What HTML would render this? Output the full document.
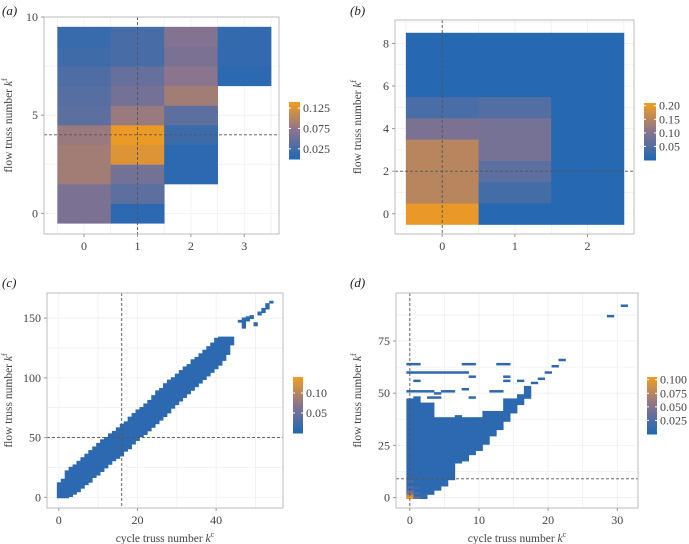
<!DOCTYPE html>
<html><head><meta charset="utf-8"><style>
html,body{margin:0;padding:0;background:#fff;}
svg{display:block;font-family:"Liberation Serif",serif;}
</style></head><body>
<svg id="fig" width="689" height="544" viewBox="0 0 689 544" xmlns="http://www.w3.org/2000/svg"></svg>
<script>
// ---- Panel (a) data ----
const aCols = [0,0,0,0,0,0,0,0,0,0, 1,1,1,1,1,1,1,1,1,1, 2,2,2,2,2,2,2,2, 3,3,3];
const aRows = [0,1,2,3,4,5,6,7,8,9, 0,1,2,3,4,5,6,7,8,9, 2,3,4,5,6,7,8,9, 7,8,9];
const aVals = [0.06,0.06,0.085,0.085,0.08,0.04,0.035,0.03,0.02,0.015,
               0.008,0.04,0.055,0.125,0.135,0.08,0.055,0.045,0.025,0.025,
               0.008,0.008,0.018,0.04,0.085,0.07,0.06,0.065,
               0.008,0.012,0.012];
const aXTicks = [0,1,2,3];
const aYTicks = [0,5,10];
const aLegend = ["0.125","0.075","0.025"];
const aLegendVals = [0.125,0.075,0.025];
// ---- Panel (b) data ----
const bCols = [0,0,0,0,0,0,0,0,0, 1,1,1,1,1,1,1,1,1, 2,2,2,2,2,2,2,2,2];
const bRows = [0,1,2,3,4,5,6,7,8, 0,1,2,3,4,5,6,7,8, 0,1,2,3,4,5,6,7,8];
const bVals = [0.2,0.15,0.15,0.15,0.09,0.04,0.005,0.005,0.005,
               0.005,0.035,0.06,0.085,0.085,0.05,0.005,0.005,0.005,
               0.005,0.005,0.005,0.005,0.005,0.005,0.005,0.005,0.005];
const bXTicks = [0,1,2];
const bYTicks = [0,2,4,6,8];
const bLegend = ["0.20","0.15","0.10","0.05"];
const bLegendVals = [0.2,0.15,0.1,0.05];
// ---- Panel (c) data ----
const cKc   = [0,1,2,3,4,5,6,7,8,9,10,11,12,13,14,15,16,17,18,19,20,21,22,23,24,25,26,27,28,29,30,31,32,33,34,35,36,37,38,39,40,41,42,43,44,46,47,48,49,50,51,52,53,54];
const cLow  = [0,0,0,1,3,5,8,11,13,17,19,22,25,28,31,33,35,39,41,45,48,51,53,56,59,62,65,68,71,75,78,81,84,87,90,93,96,99,102,105,108,111,115,120,128,147,142,148,150,144,153,155,158,163];
const cHigh = [12,15,22,25,27,30,33,36,39,42,45,48,50,53,55,58,61,63,67,70,73,75,78,81,85,89,91,95,98,100,103,106,109,111,115,117,120,123,126,129,133,134,134,134,134,148,150,151,152,146,155,158,162,164];
const cVal = 0.008;
const cXTicks = [0,20,40];
const cYTicks = [0,50,100,150];
const cLegend = ["0.10","0.05"];
const cLegendVals = [0.10,0.05];
// ---- Panel (d) data ----
const dKc   = [0,1,2,3,4,5,6,7,8,9,10,11,12,13,14,15,16,17];
const dLow  = [0,0,0,2,4,6,9,17,18,21,23,26,30,33,37,41,45,48];
const dHigh = [47,48,45,45,38,38,38,39,38,38,38,41,41,41,47,47,49,53];
const dSegStart = [0,8,13,0,1,0,4,5,8,9,9,14,14,16,18,19,20,21,22,29,31,3,6,12];
const dSegEnd   = [1,9,14,8,1,3,4,5,8,9,9,14,14,16,18,19,20,21,22,29,31,4,6,13];
const dSegKf    = [64,64,64,60,56,51,50,51,52,58,48,58,56,56,55,57,60,63,66,87,92,48,51,51];
const dHotKc  = [0,0,0,0,0,0,1,1,1,2];
const dHotKf  = [0,1,2,3,5,8,0,2,5,1];
const dHotVal = [0.1,0.085,0.05,0.035,0.025,0.02,0.03,0.02,0.015,0.015];
const dBase = 0.006;
const dXTicks = [0,10,20,30];
const dYTicks = [0,25,50,75];
const dLegend = ["0.100","0.075","0.050","0.025"];
const dLegendVals = [0.1,0.075,0.05,0.025];

const NS = "http://www.w3.org/2000/svg";
const svg = document.getElementById('fig');
function mk(tag, attrs, parent){ const e=document.createElementNS(NS,tag); for(const k in attrs) e.setAttribute(k,attrs[k]); (parent||svg).appendChild(e); return e; }
function lerp(a,b,t){return Math.round(a+(b-a)*t);}
function color(t){
  t=Math.max(0,Math.min(1,t));
  const s0=[33,104,180], s1=[138,116,142], s2=[244,157,30];
  let a,b,u; if(t<0.5){a=s0;b=s1;u=t/0.5;} else {a=s1;b=s2;u=(t-0.5)/0.5;}
  return `rgb(${lerp(a[0],b[0],u)},${lerp(a[1],b[1],u)},${lerp(a[2],b[2],u)})`;
}
function panel(p){
  const g=mk('g',{});
  
  
  const sx=v=>p.x0+(v-p.xmin)/(p.xmax-p.xmin)*(p.x1-p.x0);
  const sy=v=>p.y1-(v-p.ymin)/(p.ymax-p.ymin)*(p.y1-p.y0);
  p.gx.forEach(v=>{mk('line',{x1:sx(v),x2:sx(v),y1:p.y0,y2:p.y1,stroke:'#efefef','stroke-width':0.8},g);});
  p.gy.forEach(v=>{mk('line',{x1:p.x0,x2:p.x1,y1:sy(v),y2:sy(v),stroke:'#efefef','stroke-width':0.8},g);});
  p.draw(g,sx,sy);
  const dv=mk('line',{x1:sx(p.dx),x2:sx(p.dx),y1:p.y0,y2:p.y1,stroke:'#555','stroke-width':0.9,'stroke-dasharray':'3,2'},g);
  
  
  const dh=mk('line',{x1:p.x0,x2:p.x1,y1:sy(p.dy),y2:sy(p.dy),stroke:'#555','stroke-width':0.9,'stroke-dasharray':'3,2'},g);
  
  
  const fr=mk('rect',{x:p.x0,y:p.y0,width:p.x1-p.x0,height:p.y1-p.y0,fill:'none',stroke:'#bdbdbd','stroke-width':1},g);
  
  
  p.xt.forEach(v=>{
    mk('line',{x1:sx(v),x2:sx(v),y1:p.y1,y2:p.y1+3,stroke:'#999'},g);
    const t=mk('text',{x:sx(v),y:p.y1+16,'text-anchor':'middle','font-size':12,fill:'#444'},g); t.textContent=v;
    
    
  });
  p.yt.forEach(v=>{
    mk('line',{x1:p.x0-3,x2:p.x0,y1:sy(v),y2:sy(v),stroke:'#999'},g);
    const t=mk('text',{x:p.x0-6,y:sy(v)+4,'text-anchor':'end','font-size':12,fill:'#444'},g); t.textContent=v;
    
    
  });
  const lab=mk('text',{x:p.lx,y:p.ly,'font-size':13,'font-style':'italic',fill:'#222'},g); lab.textContent='('+p.name+')';
  
  
  const yt=mk('text',{x:0,y:0,'text-anchor':'middle','font-size':11.5,fill:'#444',transform:`translate(${p.ytx},${(p.y0+p.y1)/2}) rotate(-90)`},g);
  yt.innerHTML='flow truss number <tspan font-style="italic">k</tspan><tspan font-size="8" dy="-5">f</tspan>';
  
  
  if(p.xtitle){
    const xt=mk('text',{x:(p.x0+p.x1)/2,y:p.y1+34,'text-anchor':'middle','font-size':11.5,fill:'#444'},g);
    xt.innerHTML='cycle truss number <tspan font-style="italic">k</tspan><tspan font-size="8" dy="-5">c</tspan>';
    
    
  }
  const L=p.leg; const lg=mk('g',{},g);
  
  
  const n=40;
  for(let i=0;i<n;i++){
    const t=i/n; mk('rect',{x:L.x,y:L.y1-(i+1)*(L.y1-L.y0)/n,width:L.w,height:(L.y1-L.y0)/n+0.5,fill:color(t*L.top/p.vmax)},lg);
  }
  const ly=v=>L.y1-(v/L.top)*(L.y1-L.y0);
  L.vals.forEach((v,i)=>{
    mk('line',{x1:L.x,x2:L.x+2,y1:ly(v),y2:ly(v),stroke:'#fff'},lg);
    mk('line',{x1:L.x+L.w-2,x2:L.x+L.w,y1:ly(v),y2:ly(v),stroke:'#fff'},lg);
    const t=mk('text',{x:L.x+L.w+3,y:ly(v)+4,'font-size':12,fill:'#444'},lg); t.textContent=L.labels[i];
    
    
  });
}
function cell(g,x,y,w,h,fill){ const r=mk('rect',{x:x,y:y,width:w+0.4,height:h+0.4,fill:fill},g);
  
  
  return r; }

panel({name:'a',x0:44,x1:279,y0:17,y1:234,xmin:-0.75,xmax:3.65,ymin:-1.05,ymax:10.0,
  gx:[-0.5,0,0.5,1,1.5,2,2.5,3,3.5],gy:[0,2.5,5,7.5,10],xt:aXTicks,yt:aYTicks,dx:1,dy:4,vmax:0.14,
  lx:2,ly:15,ytx:12,xtitle:false,
  leg:{x:289,w:11,y0:102,y1:159,top:0.14,vals:aLegendVals,labels:aLegend},
  draw:(g,sx,sy)=>{aCols.forEach((c,i)=>{const r=aRows[i];cell(g,sx(c-0.5),sy(r+0.5),sx(c+0.5)-sx(c-0.5),sy(r-0.5)-sy(r+0.5),color(aVals[i]/0.14));});}
});
panel({name:'b',x0:395,x1:634,y0:20,y1:234,xmin:-0.65,xmax:2.64,ymin:-0.95,ymax:9.1,
  gx:[-0.5,0,0.5,1,1.5,2,2.5],gy:[0,1,2,3,4,5,6,7,8,9],xt:bXTicks,yt:bYTicks,dx:0,dy:2,vmax:0.21,
  lx:350,ly:15,ytx:361,xtitle:false,
  leg:{x:644,w:12,y0:103,y1:160,top:0.21,vals:bLegendVals,labels:bLegend},
  draw:(g,sx,sy)=>{bCols.forEach((c,i)=>{const r=bRows[i];cell(g,sx(c-0.5),sy(r+0.5),sx(c+0.5)-sx(c-0.5),sy(r-0.5)-sy(r+0.5),color(bVals[i]/0.21));});}
});
panel({name:'c',x0:47,x1:283,y0:293,y1:508,xmin:-3,xmax:57,ymin:-9,ymax:171,
  gx:[0,10,20,30,40,50],gy:[0,25,50,75,100,125,150],xt:cXTicks,yt:cYTicks,dx:16,dy:50,vmax:0.14,
  lx:2,ly:287,ytx:12,xtitle:true,
  leg:{x:293,w:10,y0:377,y1:433,top:0.14,vals:cLegendVals,labels:cLegend},
  draw:(g,sx,sy)=>{cKc.forEach((k,i)=>{cell(g,sx(k-0.5),sy(cHigh[i]+0.5),sx(k+0.5)-sx(k-0.5),sy(cLow[i]-0.5)-sy(cHigh[i]+0.5),color(cVal/0.14));});}
});
panel({name:'d',x0:396,x1:638,y0:293,y1:508,xmin:-2,xmax:33,ymin:-5,ymax:98,
  gx:[0,5,10,15,20,25,30],gy:[0,12.5,25,37.5,50,62.5,75,87.5],xt:dXTicks,yt:dYTicks,dx:0,dy:9,vmax:0.105,
  lx:350,ly:287,ytx:361,xtitle:true,
  leg:{x:647,w:10,y0:377,y1:434,top:0.105,vals:dLegendVals,labels:dLegend},
  draw:(g,sx,sy)=>{
    dKc.forEach((k,i)=>{cell(g,sx(k-0.5),sy(dHigh[i]+0.5),sx(k+0.5)-sx(k-0.5),sy(dLow[i]-0.5)-sy(dHigh[i]+0.5),color(dBase/0.105));});
    dSegKf.forEach((f,i)=>{cell(g,sx(dSegStart[i]-0.5),sy(f+0.5),sx(dSegEnd[i]+0.5)-sx(dSegStart[i]-0.5),sy(f-0.5)-sy(f+0.5),color(dBase/0.105));});
    dHotKf.forEach((f,i)=>{const k=dHotKc[i];cell(g,sx(k-0.5),sy(f+0.5),sx(k+0.5)-sx(k-0.5),sy(f-0.5)-sy(f+0.5),color(dHotVal[i]/0.105));});
  }
});
</script>
</body></html>
